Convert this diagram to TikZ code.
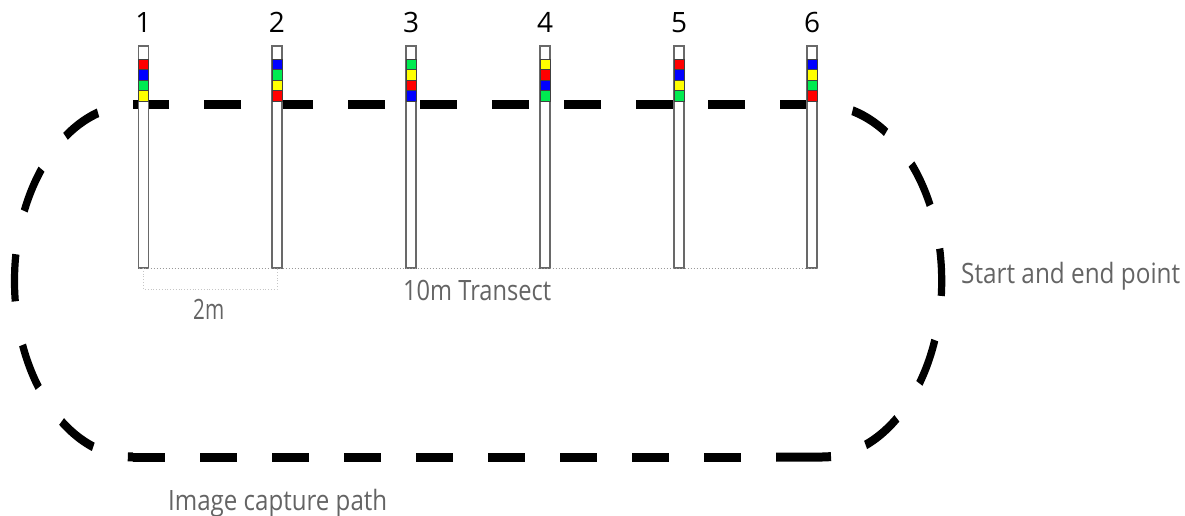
\documentclass[tikz,border=0pt]{standalone}
\usepackage{fontspec}
\setmainfont{Open Sans}
\definecolor{tgray}{RGB}{100,100,100}
\definecolor{pgray}{RGB}{105,105,105}
\definecolor{pred}{RGB}{255,0,0}
\definecolor{pblue}{RGB}{0,0,255}
\definecolor{pgreen}{RGB}{0,235,80}
\definecolor{pyellow}{RGB}{255,255,0}
\tikzset{
  capturepath/.style={line width=7.2pt, black},
  straightdash/.style={capturepath, dash pattern=on 37pt off 35pt},
  pole/.style={draw=pgray, fill=white, line width=1.3pt, minimum width=10pt, minimum height=222pt, inner sep=0pt, outer sep=0pt},
  band/.style={draw=black!75, line width=0.5pt, minimum width=10pt, minimum height=10.5pt, inner sep=0pt, outer sep=0pt},
  transect/.style={draw=gray!80, line width=1pt, dotted},
  bracket/.style={draw=gray!45, line width=0.8pt, dotted},
  lbl/.style={text=tgray, inner sep=0pt, font=\fontsize{28}{30}\selectfont},
  num/.style={text=black, inner sep=0pt, font=\fontsize{28}{30}\selectfont, anchor=base}
}
\begin{document}
\begin{tikzpicture}[x=1pt,y=-1pt]
\useasboundingbox (0,0) rectangle (1185,516);
% image capture path (drawn in a frame compressed vertically by 1.25)
\begin{scope}[transform canvas={yscale=1.25}]
  \coordinate (tr) at (817,84);
  \coordinate (tl) at (133,84);
  \coordinate (bl) at (133,365.6);
  \coordinate (bm) at (776,365.6);
  \coordinate (br) at (822,365.6);
  \draw[straightdash] (tr) -- (tl);
  \draw[capturepath, dash pattern=on 37.75pt off 35.7pt, dash phase=37.75pt]
    (tl) arc[start angle=270, end angle=90, x radius=118.5, y radius=140.8];
  \draw[straightdash, dash phase=5pt] (bl) -- (bm);
  \draw[capturepath, dash pattern=on 55pt off 36pt on 38pt off 36pt on 38pt off 36pt on 38pt off 36pt on 38pt off 36pt on 38pt off 60pt]
    (bm) -- (br) arc[start angle=90, end angle=-90, x radius=119.7, y radius=140.8];
\end{scope}
% poles
\foreach \i/\x/\cols in {1/143.5/{pred,pblue,pgreen,pyellow},
                         2/277/{pblue,pgreen,pyellow,pred},
                         3/411/{pgreen,pyellow,pred,pblue},
                         4/545/{pyellow,pred,pblue,pgreen},
                         5/679/{pred,pblue,pyellow,pgreen},
                         6/812/{pblue,pyellow,pgreen,pred}}{
  \node[pole] (p\i) at (\x,157) {};
  \foreach \c [count=\j] in \cols {
    \node[band, fill=\c] (b\i\j) at (\x,{64.25+10.5*(\j-1)}) {};
  }
  \node[num] (n\i) at (\x,33) {\i};
}
% transect line
\draw[transect] (p1.south west) -- (p6.south east);
% 2m bracket
\coordinate (q1) at (143.5,289);
\coordinate (q2) at (277,289);
\draw[bracket] (p1.south) -- (q1) -- (q2) -- (p2.south);
% labels
\node[lbl, anchor=base west] (l2m) at (193,319) {\resizebox{31pt}{\height}{2m}};
\node[lbl, anchor=base west] (ltr) at (403,300) {\resizebox{148pt}{\height}{10m Transect}};
\node[lbl, anchor=base west] (lse) at (961,283) {\resizebox{219pt}{\height}{Start and end point}};
\node[lbl, anchor=base west] (lic) at (168,510) {\resizebox{219pt}{\height}{Image capture path}};
\end{tikzpicture}
\end{document}
